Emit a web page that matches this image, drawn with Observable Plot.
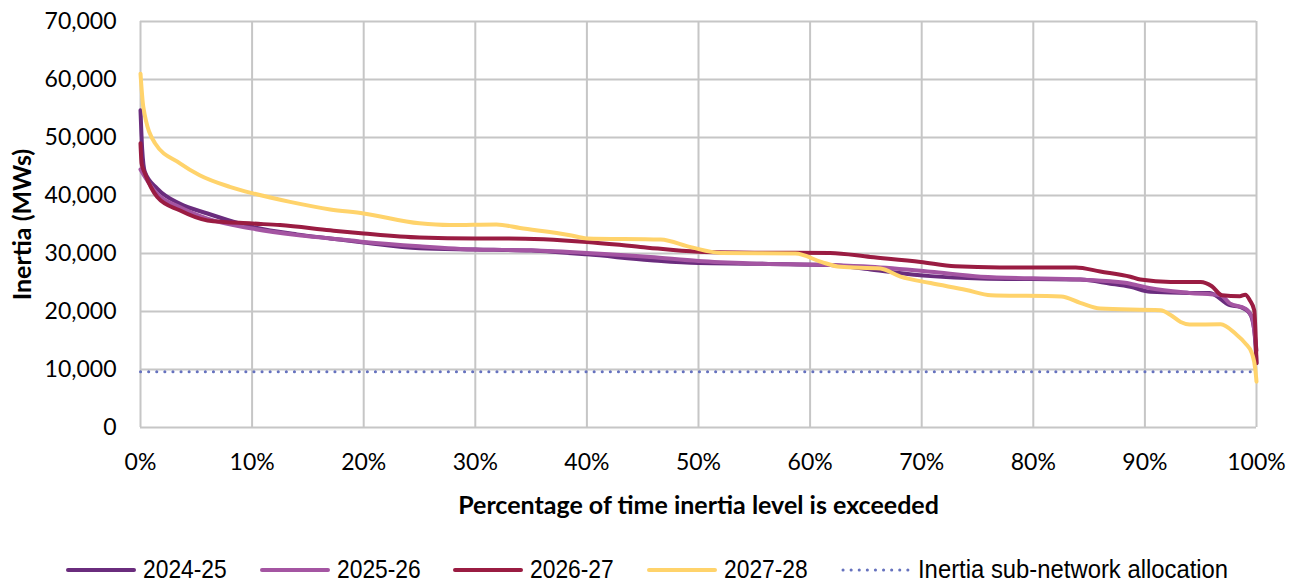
<!DOCTYPE html>
<html>
<head>
<meta charset="utf-8">
<script src="https://cdn.jsdelivr.net/npm/d3@7"></script>
<script src="https://cdn.jsdelivr.net/npm/@observablehq/plot@0.6"></script>
<style>
  body { margin: 0; background: #fff; }
  #chart svg { display: block; }
  #legend { display: flex; justify-content: flex-start; align-items: center; height: 50px; padding-left: 66px;
    font-family: "Liberation Sans", Arial, sans-serif; font-size: 25.5px; line-height: 1; color: #000; }
  .item { display: flex; align-items: center; margin-right: 33px; }
  .item svg { margin-right: 7px; display: block; }
  .item span { display: inline-block; white-space: nowrap; line-height: 1; transform-origin: 0 50%; }
</style>
</head>
<body>
<div id="chart"></div>
<div id="legend"></div>
<script>
const seriesNames = ["2024-25", "2025-26", "2026-27", "2027-28"];
const seriesColors = ["#6A2C7D", "#A455A2", "#9A1C42", "#FFD36B"];
const allocationName = "Inertia sub-network allocation";
const allocationColor = "#6672BE";
const allocationValue = 9600;

const xTicks = [0, 10, 20, 30, 40, 50, 60, 70, 80, 90, 100];
const yTicks = [0, 10000, 20000, 30000, 40000, 50000, 60000, 70000];

const pct2425 = [0, 0.15, 0.4, 1.5, 3.5, 6, 10, 14, 17, 20, 25, 30, 35, 40, 45.7, 50, 54.7, 61.8, 65.4, 70.8, 75.3, 84.2, 86.9, 88.7, 90.5, 94, 95.8, 97.6, 98.5, 99.4, 99.8, 100];
const val2425 = [54700, 48000, 44000, 41200, 38600, 36900, 34600, 33300, 32600, 31900, 30900, 30700, 30500, 29850, 28850, 28350, 28250, 28000, 27250, 26100, 25700, 25500, 24800, 24250, 23400, 23200, 23200, 21100, 20800, 19650, 16800, 11100];

const pct2526 = [0, 0.4, 1.5, 3.5, 6, 10, 14, 17, 20, 25, 30, 35, 40, 45.7, 50, 54.7, 61.8, 65.4, 70.8, 75.3, 84.2, 86.9, 88.7, 90.5, 94, 96.8, 97.6, 99, 99.6, 100];
const val2526 = [44500, 43200, 40300, 38000, 36000, 34300, 33200, 32600, 32000, 31250, 30700, 30550, 30100, 29400, 28700, 28280, 28000, 27700, 26850, 26000, 25500, 25200, 24800, 24000, 23200, 22800, 21400, 20500, 19000, 13300];

const pct2627 = [0, 0.1, 0.4, 1.5, 3.5, 6, 10, 12.5, 17, 20, 25, 30, 33, 40, 44.8, 50, 55, 61.8, 65.4, 69.9, 73, 77, 83.8, 86, 88.7, 89.6, 92.3, 95, 96, 96.9, 98.5, 99, 99.4, 99.8, 100];
const val2627 = [49000, 45500, 43800, 39750, 37450, 35700, 35170, 34900, 34000, 33450, 32750, 32600, 32600, 32000, 31140, 30300, 30150, 30100, 29400, 28550, 27800, 27600, 27600, 26900, 26000, 25500, 25100, 25100, 24360, 22800, 22650, 22900, 21950, 20200, 11100];

const pct2728 = [0, 0.25, 1.3, 3.5, 5.3, 8, 10, 13.4, 17, 20, 25, 27.7, 31.9, 34, 38.5, 40, 46.6, 49.3, 52, 58.7, 61, 62.7, 66.3, 68.1, 70.8, 74, 76.2, 82.5, 84.2, 86, 91.4, 92.3, 93.2, 94, 96.8, 98.1, 99, 99.6, 99.9, 100];
const val2728 = [61000, 55300, 49000, 45600, 43500, 41500, 40400, 38900, 37600, 36900, 35200, 34900, 35000, 34400, 33150, 32600, 32400, 31100, 30100, 30000, 28550, 27700, 27400, 26000, 24900, 23700, 22800, 22600, 21500, 20500, 20200, 19400, 18200, 17750, 17800, 16200, 14500, 12750, 9900, 7900];

const pctArrays = [pct2425, pct2526, pct2627, pct2728];
const valArrays = [val2425, val2526, val2627, val2728];

const rows = [];
seriesNames.forEach((name, i) => {
  pctArrays[i].forEach((p, j) => rows.push({ series: name, pct: p, value: valArrays[i][j] }));
});
const allocRows = [{ pct: 0, value: allocationValue }, { pct: 100, value: allocationValue }];

const fmt = d3.format(",");

const chart = Plot.plot({
  width: 1298,
  height: 545,
  marginTop: 21,
  marginBottom: 118,
  marginLeft: 140,
  marginRight: 42,
  style: { fontFamily: "Lato, 'Open Sans', sans-serif", fontSize: "23px", color: "#000", background: "#fff" },
  x: { domain: [0, 100] },
  y: { domain: [0, 70000] },
  color: { domain: seriesNames, range: seriesColors },
  marks: [
    Plot.gridX(xTicks, { stroke: "#c6c6c6", strokeOpacity: 1, strokeWidth: 2 }),
    Plot.gridY(yTicks, { stroke: "#c6c6c6", strokeOpacity: 1, strokeWidth: 2 }),
    Plot.axisX(xTicks, { tickSize: 0, tickPadding: 26, tickFormat: d => d + "%", label: null, fontSize: 23 }),
    Plot.axisY(yTicks, { tickSize: 0, tickPadding: 24, tickFormat: fmt, label: null, fontSize: 23 }),
    Plot.line(rows, { x: "pct", y: "value", z: "series", stroke: "series", strokeWidth: 4, curve: "monotone-x" }),
    Plot.line(allocRows, { x: "pct", y: "value", stroke: allocationColor, strokeWidth: 3, strokeDasharray: "0.1 8", strokeLinecap: "round" }),
    Plot.text(["Percentage of time inertia level is exceeded"], { frameAnchor: "bottom", lineAnchor: "middle", dy: 78, fontWeight: "bold", fontSize: 25 }),
    Plot.text(["Inertia (MWs)"], { frameAnchor: "left", textAnchor: "middle", lineAnchor: "middle", dx: -118, rotate: -90, fontWeight: "bold", fontSize: 25 })
  ]
});
document.getElementById("chart").appendChild(chart);

const legend = document.getElementById("legend");
const items = seriesNames.map((n, i) => ({ name: n, color: seriesColors[i], dotted: false, k: 0.895 }));
items.push({ name: allocationName, color: allocationColor, dotted: true, k: 0.935 });
items.forEach(it => {
  const div = document.createElement("div");
  div.className = "item";
  const dash = it.dotted ? 'stroke-dasharray="0.1 8" stroke-linecap="round" stroke-width="3"' : 'stroke-linecap="round" stroke-width="4"';
  div.innerHTML = `<svg width="70" height="10"><line x1="2" y1="5" x2="68" y2="5" stroke="${it.color}" ${dash}/></svg><span>${it.name}</span>`;
  legend.appendChild(div);
  const span = div.querySelector("span");
  const w = span.offsetWidth;
  span.style.transform = `scaleX(${it.k})`;
  span.style.marginRight = (-(w * (1 - it.k))) + "px";
});
</script>
</body>
</html>
